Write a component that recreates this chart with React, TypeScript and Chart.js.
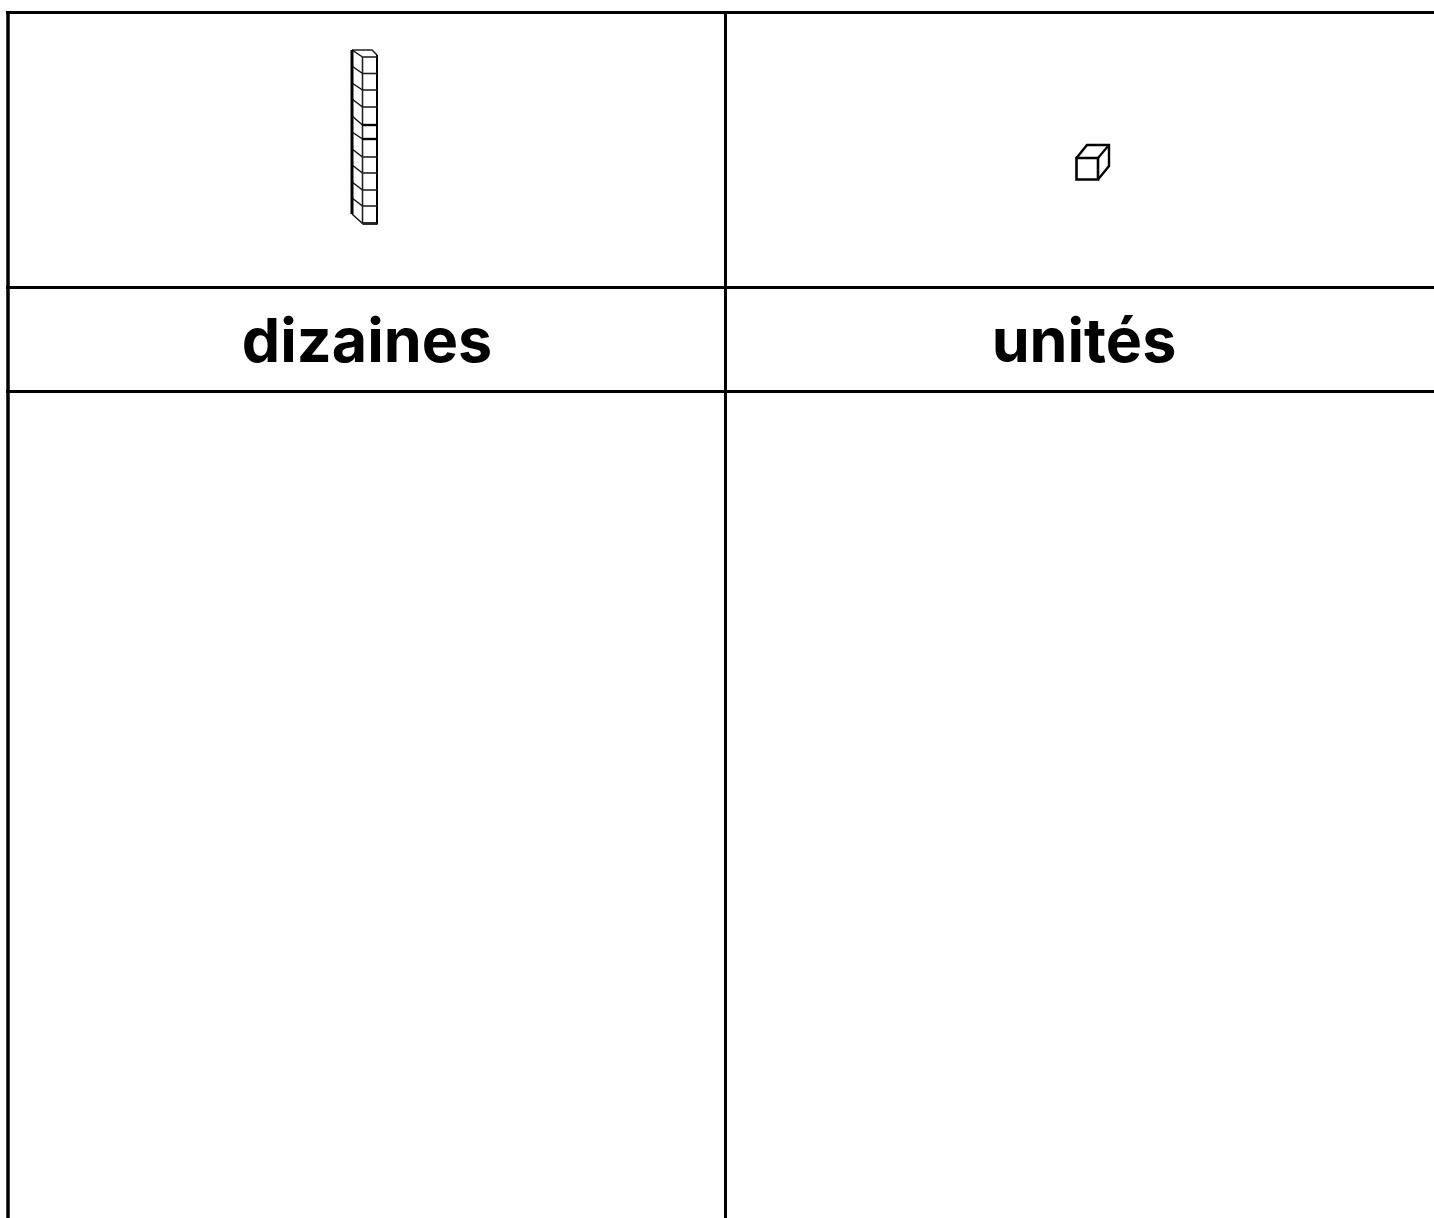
import React, { useEffect, useRef } from "react";
import { Chart, registerables } from "chart.js";

Chart.register(...registerables);

const canvasWidth = 1434;
const canvasHeight = 1218;

// Table rules, in the chart's data units
const columnRules = [8, 725.5];
const rowRules = [12.5, 287.5, 391.5];
const tableLeft = 6;
const tableTop = 11;

const headerLabels = ["dizaines", "unités"];
const headerCenters = [367, 1084];
const headerBaseline = 361.5;

// Ten-rod drawing
const rodFrontLeft = 362.5;
const rodFrontRight = 377;
const rodBackLeft = 352;
const rodBackRight = 372;
const rodFrontLevels = [57, 73.5, 90, 107, 125, 139, 157, 173, 190, 206, 223.5];
const rodBackLevels = [50, 66, 83, 99, 116, 132, 149, 165, 182, 198, 214];
const rodHeavyLevels = [125, 139];

// Unit cube drawing
const cubeFrontX = [1076.5, 1098];
const cubeFrontY = [158, 179.5];
const cubeBackX = [1087, 1109];
const cubeBackY = [145, 166];

type P = { x: number; y: number };
const seg = (points: P[], width: number, color = "#000", cap: "butt" | "square" = "butt") => ({
  data: points,
  showLine: true,
  borderColor: color,
  borderWidth: width,
  pointRadius: 0,
  fill: false,
  tension: 0,
  borderCapStyle: cap,
  borderJoinStyle: "miter" as const,
});

function buildDatasets() {
  const sets: any[] = [];
  // table
  columnRules.forEach((x, i) => {
    sets.push(seg([{ x, y: tableTop }, { x, y: canvasHeight }], i === 0 ? 3.5 : 3));
  });
  for (const y of rowRules) {
    sets.push(seg([{ x: tableLeft, y }, { x: canvasWidth, y }], 3));
  }
  // rod
  rodFrontLevels.forEach((y, i) => {
    const heavy = rodHeavyLevels.includes(y);
    sets.push(seg([{ x: rodFrontLeft, y }, { x: rodFrontRight, y }], heavy ? 2.4 : 1.6, heavy ? "#000" : "#222"));
    sets.push(seg([{ x: rodBackLeft, y: rodBackLevels[i] }, { x: rodFrontLeft, y }], 1.5, "#111"));
  });
  const last = rodFrontLevels.length - 1;
  sets.push(seg([{ x: rodBackLeft, y: rodBackLevels[0] }, { x: rodBackLeft, y: rodBackLevels[last] }], 3));
  sets.push(seg([{ x: rodFrontLeft, y: rodFrontLevels[0] }, { x: rodFrontLeft, y: rodFrontLevels[last] }], 1.6, "#222"));
  sets.push(seg([{ x: rodFrontRight, y: rodFrontLevels[0] - 2 }, { x: rodFrontRight, y: rodFrontLevels[last] + 1 }], 2));
  sets.push(seg([{ x: rodFrontLeft, y: rodFrontLevels[last] }, { x: rodFrontRight, y: rodFrontLevels[last] }], 2.6));
  sets.push(seg([
    { x: rodBackLeft, y: rodBackLevels[0] },
    { x: rodBackRight, y: rodBackLevels[0] },
    { x: rodFrontRight, y: rodFrontLevels[0] - 2 },
  ], 1.5, "#222"));
  // cube
  const [fl, fr] = cubeFrontX;
  const [ft, fb] = cubeFrontY;
  const [bl, br] = cubeBackX;
  const [bt, bb] = cubeBackY;
  sets.push(seg([{ x: fl, y: ft }, { x: fr, y: ft }, { x: fr, y: fb }, { x: fl, y: fb }, { x: fl, y: ft }], 2.6, "#000", "square"));
  sets.push(seg([{ x: fl, y: ft }, { x: bl, y: bt }, { x: br, y: bt }, { x: br, y: bb }, { x: fr, y: fb }], 2.4));
  sets.push(seg([{ x: fr, y: ft }, { x: br, y: bt }], 2.2));
  return sets;
}

const headerPlugin = {
  id: "headers",
  afterDatasetsDraw(chart: any) {
    const { ctx, scales } = chart;
    ctx.save();
    ctx.fillStyle = "#000";
    ctx.textAlign = "center";
    ctx.textBaseline = "alphabetic";
    ctx.font = 'bold 61px "Inter", sans-serif';
    headerLabels.forEach((t, i) => {
      ctx.fillText(t, scales.x.getPixelForValue(headerCenters[i]), scales.y.getPixelForValue(headerBaseline));
    });
    ctx.restore();
  },
};

export default function App() {
  const ref = useRef<HTMLCanvasElement>(null);
  useEffect(() => {
    const chart = new Chart(ref.current!, {
      type: "scatter",
      data: { datasets: buildDatasets() },
      options: {
        animation: false,
        responsive: false,
        events: [],
        layout: { padding: 0 },
        plugins: { legend: { display: false }, tooltip: { enabled: false }, title: { display: false } },
        scales: {
          x: { type: "linear", min: 0, max: canvasWidth, display: false },
          y: { type: "linear", min: 0, max: canvasHeight, reverse: true, display: false },
        },
      },
      plugins: [headerPlugin],
    } as any);
    return () => chart.destroy();
  }, []);
  return (
    <canvas
      ref={ref}
      width={canvasWidth}
      height={canvasHeight}
      style={{ position: "absolute", left: 0, top: 0, width: canvasWidth, height: canvasHeight, display: "block" }}
    />
  );
}
